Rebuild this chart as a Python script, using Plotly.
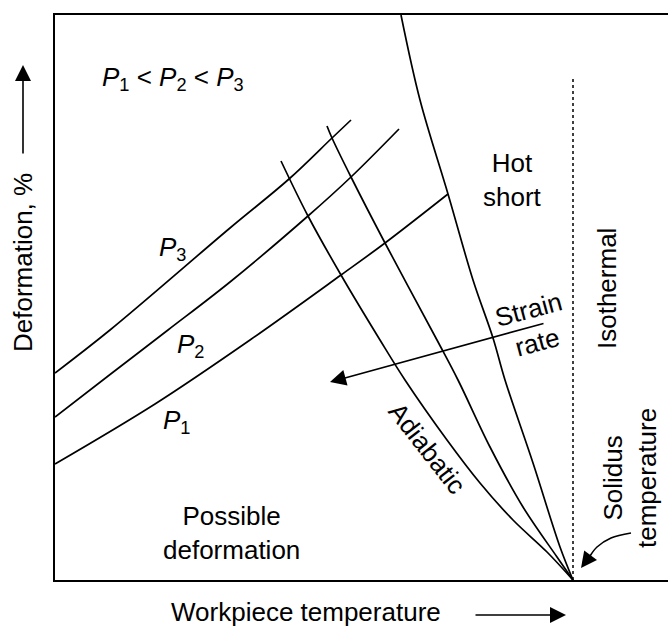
import plotly.graph_objects as go

# Schematic units: temperature (x) and deformation (y), arbitrary scale
p1_t = [0, 100, 195, 286, 330, 393]
p1_d = [116, 176, 240, 305, 337, 386]

p2_t = [0, 57, 113, 175, 253, 296, 344]
p2_d = [163, 207, 250, 298, 364, 403, 451]

p3_t = [0, 55, 175, 234, 277, 296]
p3_d = [207, 250, 352, 401, 442, 460]

adiab_t = [226, 253, 286, 325, 350, 392, 425, 458, 492, 518]
adiab_d = [419, 364, 305, 240, 200, 140, 97, 60, 28, 0]

mid_t = [272, 277, 296, 330, 382, 403, 435, 468, 502, 518]
mid_d = [454, 442, 403, 337, 240, 200, 133, 73, 23, 0]

hot_t = [346, 365, 393, 418, 438, 450, 478, 505, 518]
hot_d = [565, 480, 386, 300, 242, 200, 117, 33, 0]

iso_t = [518, 518]
iso_d = [0, 502]

sol_t = [576, 556, 542, 535]
sol_d = [47, 42, 33, 24]

FONT = "Liberation Sans, Arial, Helvetica, sans-serif"
FS = 26

fig = go.Figure()

def curve(x, y, dash="solid", width=1.7):
    fig.add_trace(go.Scatter(x=x, y=y, mode="lines",
                             line=dict(color="black", width=width, dash=dash, shape="spline", smoothing=1.0),
                             hoverinfo="skip", showlegend=False, cliponaxis=False))

curve(p1_t, p1_d)
curve(p2_t, p2_d)
curve(p3_t, p3_d)
curve(adiab_t, adiab_d)
curve(mid_t, mid_d)
curve(hot_t, hot_d)
curve(iso_t, iso_d, dash="3px,3px", width=1.5)
curve(sol_t, sol_d, width=1.6)

ann = []
def txt(x, y, s, angle=0, ref="data"):
    d = dict(x=x, y=y, text=s, showarrow=False, textangle=angle,
             font=dict(family=FONT, size=FS, color="black"),
             xanchor="center", yanchor="middle")
    if ref == "paper":
        d.update(xref="paper", yref="paper")
    else:
        d.update(xref="x", yref="y")
    ann.append(d)

txt(118, 502, "<i>P</i><sub>1</sub> &lt; <i>P</i><sub>2</sub> &lt; <i>P</i><sub>3</sub>")
txt(117, 332, "<i>P</i><sub>3</sub>")
txt(135, 235, "<i>P</i><sub>2</sub>")
txt(121, 159, "<i>P</i><sub>1</sub>")
txt(176, 47, "Possible<br>deformation")
txt(457, 400, "Hot<br>short")
txt(552, 291, "Isothermal", angle=-90)
txt(478, 254, "Strain<br>rate", angle=-15)
txt(372, 132, "Adiabatic", angle=52)
txt(575, 102, "Solidus<br>temperature", angle=-90)
txt((306 - 55) / 613, (580 - 612) / 565, "Workpiece temperature", ref="paper")
txt((23 - 55) / 613, (580 - 263) / 565, "Deformation, %", angle=-90, ref="paper")

# arrows
arrow_style = dict(showarrow=True, arrowhead=2, arrowsize=2.0, arrowwidth=1.6,
                   arrowcolor="black", text="", standoff=0, startstandoff=0)
# strain rate arrow
ann.append(dict(x=275, y=198, ax=490, ay=257, xref="x", yref="y", axref="x", ayref="y", **arrow_style))
# solidus arrow head
ann.append(dict(x=526, y=12, ax=535, ay=24, xref="x", yref="y", axref="x", ayref="y", **arrow_style))
# axis arrows
ann.append(dict(x=(23 - 55) / 613, y=(580 - 65) / 565, ax=0, ay=90, xref="paper", yref="paper", **arrow_style))
ann.append(dict(x=(566 - 55) / 613, y=(580 - 615) / 565, ax=-92, ay=0, xref="paper", yref="paper", **arrow_style))

fig.update_layout(
    width=668, height=627,
    margin=dict(l=55, r=0, t=15, b=47),
    paper_bgcolor="white", plot_bgcolor="white",
    annotations=ann,
    xaxis=dict(range=[0, 613], showgrid=False, zeroline=False, showticklabels=False, ticks="",
               showline=True, linecolor="black", linewidth=2.2, mirror=True),
    yaxis=dict(range=[0, 565], showgrid=False, zeroline=False, showticklabels=False, ticks="",
               showline=True, linecolor="black", linewidth=2.2, mirror=False),
)

fig.write_html("out.html", config={"displayModeBar": False},
               post_script="document.body.style.margin='0px';document.body.style.overflow='hidden';")
